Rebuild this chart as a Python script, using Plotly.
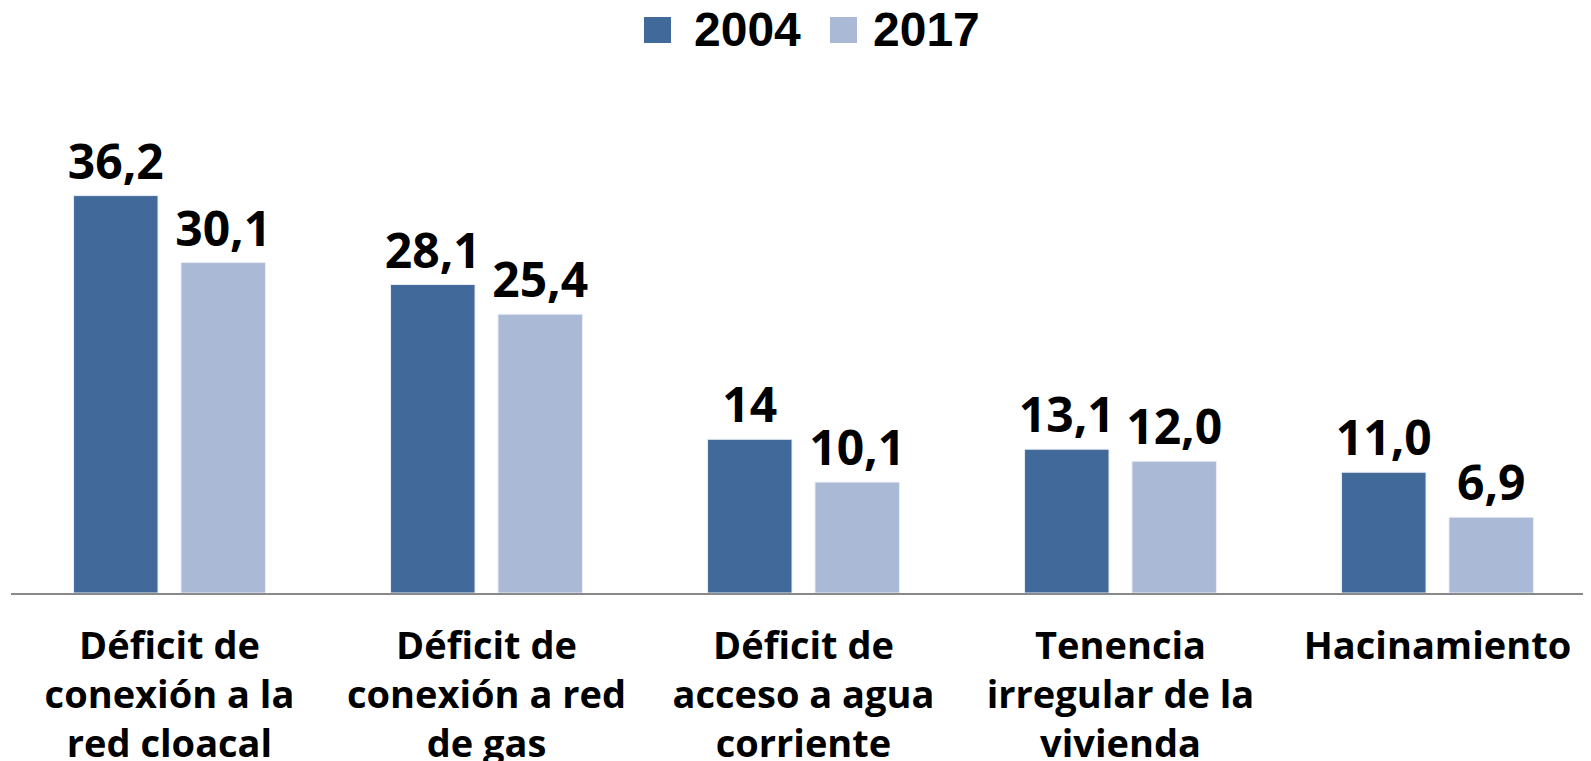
import plotly.graph_objects as go

categories = [
    "Déficit de<br>conexión a la<br>red cloacal",
    "Déficit de<br>conexión a red<br>de gas",
    "Déficit de<br>acceso a agua<br>corriente",
    "Tenencia<br>irregular de la<br>vivienda",
    "Hacinamiento",
]
values_2004 = [36.2, 28.1, 14.0, 13.1, 11.0]
values_2017 = [30.1, 25.4, 10.1, 12.0, 6.9]
labels_2004 = ["36,2", "28,1", "14", "13,1", "11,0"]
labels_2017 = ["30,1", "25,4", "10,1", "12,0", "6,9"]
series_names = ["2004", "2017"]

C1 = "#416A9B"
C2 = "#AAB9D6"

# page body has an 8px margin, so figure coordinates = page coordinates - 8
OFF = 8
W, H = 1591, 761
L, R, T, B = 3, 3, 91, 176
YMAX = 45

fig = go.Figure()
for name, vals, labs, col in [(series_names[0], values_2004, labels_2004, C1),
                              (series_names[1], values_2017, labels_2017, C2)]:
    fig.add_trace(go.Bar(
        x=categories, y=vals, name=name, text=labs,
        textposition="outside", constraintext="none", cliponaxis=False,
        textfont=dict(family="Open Sans", size=48, color="black", weight="bold"),
        marker=dict(color=col, line=dict(color="#E8EDF5", width=1)),
        showlegend=False,
    ))

pw = W - L - R
ph = H - T - B

def px_x(p):
    return (p - OFF - L) / pw

def px_y(p):
    return (H - B - (p - OFF)) / ph

# legend drawn manually (swatches larger than plotly's fixed legend icons)
legend_items = [(series_names[0], C1, 644, 694), (series_names[1], C2, 830, 873)]
for name, col, sx, tx in legend_items:
    fig.add_shape(type="rect", xref="paper", yref="paper",
                  x0=px_x(sx), x1=px_x(sx + 27), y0=px_y(43), y1=px_y(17),
                  fillcolor=col, line=dict(width=0))
    fig.add_annotation(text=name, xref="paper", yref="paper",
                       x=px_x(tx - 2), y=px_y(29), xanchor="left", yanchor="middle",
                       showarrow=False,
                       font=dict(family="Liberation Sans", size=48, color="black", weight="bold"))

fig.update_layout(
    width=W, height=H,
    margin=dict(l=L, r=R, t=T, b=B, autoexpand=False),
    plot_bgcolor="white", paper_bgcolor="white",
    barmode="group", bargap=0.322, bargroupgap=0.214,
    showlegend=False,
    xaxis=dict(showline=True, linecolor="#898989", linewidth=2, ticks="",
               showgrid=False, automargin=False, ticklabelstandoff=18,
               tickfont=dict(family="Open Sans", size=38, color="black", weight="bold")),
    yaxis=dict(range=[0, YMAX], visible=False, showgrid=False, zeroline=False),
)

fig.write_html("out.html")
